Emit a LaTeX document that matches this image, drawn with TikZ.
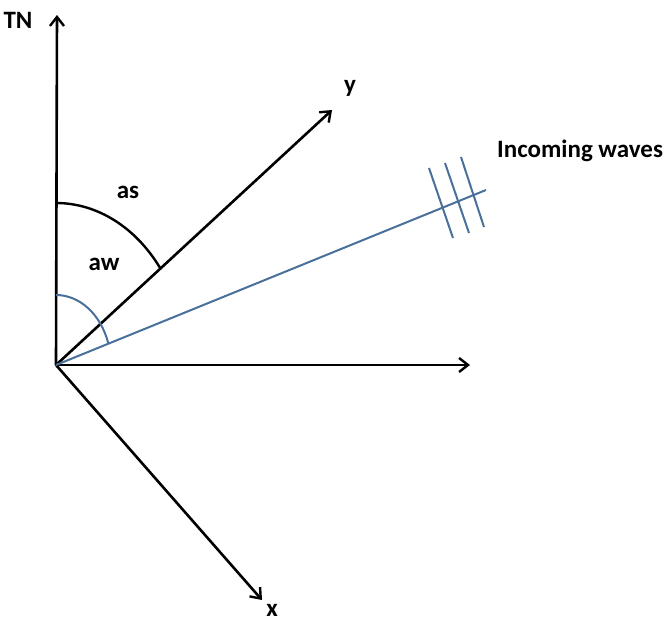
\documentclass[tikz,border=0pt]{standalone}
\usepackage{fontspec}
\setmainfont{Carlito}
\usetikzlibrary{arrows.meta}
\definecolor{wblue}{RGB}{72,112,155}
\tikzset{
  axis/.style={line width=2.6pt, -{Straight Barb[length=9pt,width=14pt,line width=2.4pt]}},
  lbl/.style={font=\bfseries\fontsize{25}{28}\selectfont, inner sep=0pt},
  bluel/.style={wblue, line width=2pt},
}
\begin{document}
\begin{tikzpicture}[x=1pt,y=-1pt]
\useasboundingbox (0,0) rectangle (667,621);
\coordinate (O) at (56,365);
\coordinate (tn) at (57,15);
\coordinate (ytip) at (332,110);
\coordinate (htip) at (470,365);
\coordinate (xtip) at (262,600);
\coordinate (wend) at (486,190);
\draw[axis] (O) -- (tn);
\draw[axis] (O) -- (ytip);
\draw[axis] (O) -- (htip);
\draw[axis] (O) -- (xtip);
\draw[bluel] (O) -- (wend);
% hatches
\coordinate (h1a) at (429,168); \coordinate (h1b) at (453,238);
\coordinate (h2a) at (445,163); \coordinate (h2b) at (469,233);
\coordinate (h3a) at (461,157); \coordinate (h3b) at (484,227);
\draw[bluel] (h1a) -- (h1b);
\draw[bluel] (h2a) -- (h2b);
\draw[bluel] (h3a) -- (h3b);
% arcs
\draw[line width=2.4pt] (56,203) arc[start angle=90, end angle=36.9, x radius=130pt, y radius=162pt];
\draw[bluel] (56,295) arc[start angle=90, end angle=18.3, x radius=55pt, y radius=70pt];
% labels
\node[lbl] (tnl) at (18,20) {TN};
\node[lbl] (yl) at (350,88) {y};
\node[lbl, anchor=west] (iw) at (497,151) {Incoming waves};
\node[lbl] (asl) at (128,192) {as};
\node[lbl] (awl) at (104,264) {aw};
\node[lbl] (xl) at (272,610) {x};
\end{tikzpicture}
\end{document}
